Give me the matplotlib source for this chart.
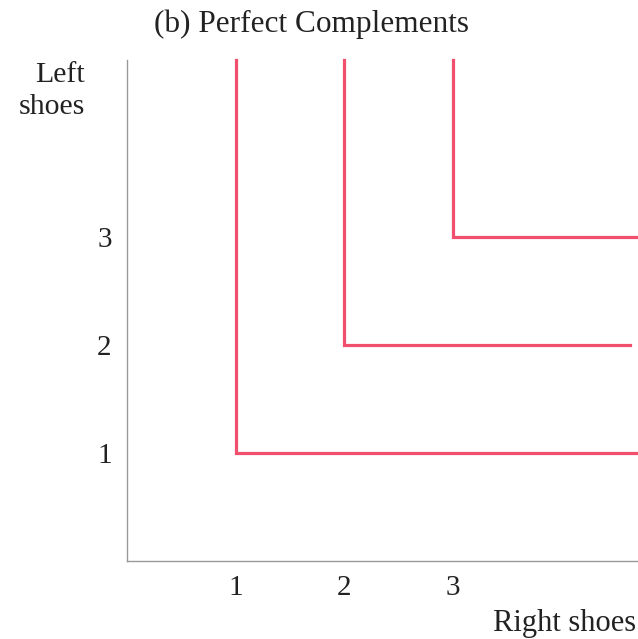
import matplotlib
import matplotlib.pyplot as plt

matplotlib.rcParams.update({'font.family': ['Liberation Serif', 'DejaVu Serif'], 'font.size': 21})

# corner points of the L-shaped indifference curves
corner_x = [1, 2, 3]
corner_y = [1, 2, 3]
right_end = [4.70, 4.64, 4.70]
top_end = 4.64

x_ticks = [1, 2, 3]
y_ticks = [1, 2, 3]

red = '#f0506e'

fig = plt.figure(figsize=(6.38, 6.39), dpi=100)
ax = fig.add_axes([127 / 638, 1 - 561 / 639, 510 / 638, 501 / 639])

for cx, cy, rx in zip(corner_x, corner_y, right_end):
    ax.plot([cx, cx, rx], [top_end, cy, cy], color=red, linewidth=2.3,
            solid_joinstyle='miter', clip_on=False)

ax.set_xlim(0, 4.70)
ax.set_ylim(0, 4.64)
ax.set_xticks(x_ticks)
ax.set_yticks(y_ticks)
ax.tick_params(length=0, labelsize=21, colors='#222222')
ax.tick_params(axis='x', pad=10)
ax.tick_params(axis='y', pad=11)

for side in ['top', 'right']:
    ax.spines[side].set_visible(False)
for side in ['left', 'bottom']:
    ax.spines[side].set_color('#999999')
    ax.spines[side].set_linewidth(1.0)

fig.text(312 / 638, 1 - 24 / 639, '(b) Perfect Complements', ha='center', va='center',
         fontsize=22.5, color='#222222')
fig.text(85 / 638, 1 - 91 / 639, 'Left\nshoes', ha='right', va='center',
         fontsize=21.5, color='#222222', linespacing=1.3)
fig.text(636 / 638, 1 - 623 / 639, 'Right shoes', ha='right', va='center',
         fontsize=22, color='#222222')

fig.savefig('out.png', dpi=100)
